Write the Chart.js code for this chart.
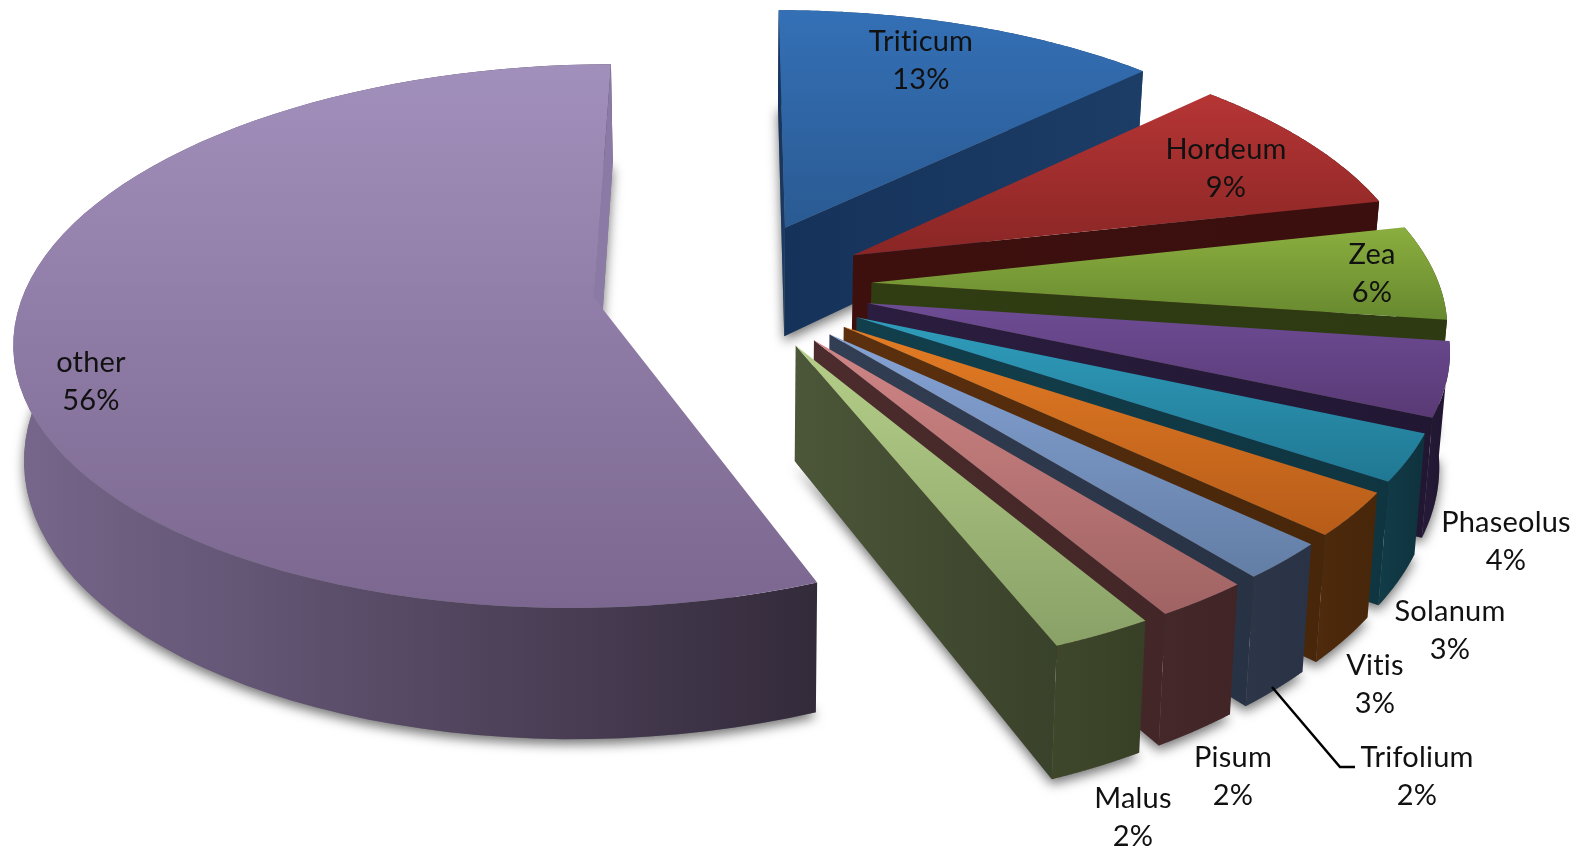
<!DOCTYPE html>
<html>
<head>
<meta charset="utf-8">
<style>
	html, body { margin: 0; padding: 0; background: #fff; overflow: hidden; }
	canvas { display: block; filter: blur(0.5px); }
</style>
</head>
<body>
<canvas id="piechart" width="1589" height="849"></canvas>
<script src="https://cdn.jsdelivr.net/npm/chart.js"></script>
<script>
	var categories = ['Triticum', 'Hordeum', 'Zea', 'Phaseolus', 'Solanum', 'Vitis', 'Trifolium', 'Pisum', 'Malus', 'other'];
	// labels are rounded, the slice widths show a bit more than that
	var values = [12.8, 8.7, 5.7, 4.4, 2.8, 2.6, 2.2, 2.3, 2.45, 56.05];

	// top face gradient, light at the back, dark at the front
	var topLight = ['#3470b6', '#b63535', '#8bae3f', '#6e4c95', '#2f9dbc', '#e47c24', '#85a3d5', '#d08585', '#b5cf89', '#a290bc'];
	var topDark = ['#2a5a92', '#892625', '#67892f', '#593a75', '#207893', '#b75c19', '#637ea5', '#a06363', '#89a167', '#7b678f'];
	var wallLeft = ['#1a3a60', '#3d100e', '#303d13', '#261a38', '#113c48', '#4f2a0c', '#2c3648', '#452829', '#3f472b', '#77678c'];
	var wallRight = ['#1a3a60', '#3a0f0d', '#2d3a12', '#1f1630', '#0f323d', '#47260a', '#293345', '#412526', '#373f26', '#332a3a'];
	var faceLeft = ['#15325a', '#3d100e', '#303d13', '#2b1d3f', '#123f4c', '#5c300e', '#323e53', '#4c2c2c', '#4c5638', '#8a7aa5'];
	var faceRight = ['#1c3d66', '#3a0f0d', '#2d3a12', '#211733', '#0f3540', '#47260a', '#283245', '#432627', '#39422a', '#8a7aa5'];

	// label centres, same order as categories
	var labelX = [921, 1226, 1372, 1506, 1450, 1375, 1417, 1233, 1133, 91];
	var labelY = [42, 150, 255, 523, 612, 666, 758, 758, 799, 363];
	var lineGap = 37.5;
	var leaderX = [1272, 1340, 1355];
	var leaderY = [687, 767, 767];

	// view used to lay the flat pie down
	var originX = 732, originY = 285.5, spread = 568;
	var tilt = 0.463, persp = 0.14, depth = 112, narrow = 0.985;
	var steps = 80;

	function project(u, v, low) {
		var s = 1 / (1 - persp * v);
		var x = u * spread * s;
		var y = originY + v * spread * tilt * s;
		if (low) {
			x = x * narrow;
			y = y + depth * s;
		}
		return [originX + x, y];
	}

	function pathOf(ctx, pts) {
		ctx.beginPath();
		pts.forEach(function (p, i) {
			if (i == 0) ctx.moveTo(p[0], p[1]);
			else ctx.lineTo(p[0], p[1]);
		});
		ctx.closePath();
	}

	function area(pts) {
		var a = 0;
		pts.forEach(function (p, i) {
			var q = pts[(i + 1) % pts.length];
			a += p[0] * q[1] - q[0] * p[1];
		});
		return a / 2;
	}

	function hGrad(ctx, pts, c1, c2) {
		var xs = pts.map(function (p) { return p[0]; });
		var g = ctx.createLinearGradient(Math.min.apply(null, xs), 0, Math.max.apply(null, xs), 0);
		g.addColorStop(0, c1);
		g.addColorStop(1, c2);
		return g;
	}

	function vGrad(ctx, pts, c1, c2) {
		var ys = pts.map(function (p) { return p[1]; });
		var g = ctx.createLinearGradient(0, Math.min.apply(null, ys), 0, Math.max.apply(null, ys));
		g.addColorStop(0, c1);
		g.addColorStop(1, c2);
		return g;
	}

	// ground coordinates of a slice, in pie radii, read from the arc element
	function sliceShape(arc) {
		var p = arc.getProps(['startAngle', 'endAngle', 'outerRadius'], true);
		var mid = (p.startAngle + p.endAngle) / 2;
		var off = arc.options.offset / p.outerRadius;
		var u0 = Math.cos(mid) * off, v0 = Math.sin(mid) * off;
		var rim = [];
		for (var i = 0; i <= steps; i++) {
			var a = p.startAngle + (p.endAngle - p.startAngle) * i / steps;
			rim.push([u0 + Math.cos(a), v0 + Math.sin(a)]);
		}
		return { u0: u0, v0: v0, rim: rim };
	}

	function drawSlice(ctx, shape, i) {
		var topRim = shape.rim.map(function (r) { return project(r[0], r[1], false); });
		var lowRim = shape.rim.map(function (r) { return project(r[0], r[1], true); });
		var apexTop = project(shape.u0, shape.v0, false);
		var apexLow = project(shape.u0, shape.v0, true);

		// outer wall, back part ends up hidden below the top face
		var wall = topRim.concat(lowRim.slice().reverse());
		pathOf(ctx, wall);
		ctx.fillStyle = hGrad(ctx, wall, wallLeft[i], wallRight[i]);
		ctx.fill();

		// the two cut faces, only when they look at the viewer
		var first = [apexTop, topRim[0], lowRim[0], apexLow];
		var last = [apexTop, apexLow, lowRim[steps], topRim[steps]];
		[first, last].forEach(function (face) {
			if (area(face) < 0) {
				pathOf(ctx, face);
				ctx.fillStyle = hGrad(ctx, face, faceLeft[i], faceRight[i]);
				ctx.fill();
			}
		});

		var top = [apexTop].concat(topRim);
		pathOf(ctx, top);
		ctx.fillStyle = vGrad(ctx, top, topLight[i], topDark[i]);
		ctx.fill();
	}

	var pie3d = {
		id: 'pie3d',
		beforeDatasetsDraw: function (chart) {
			var ctx = chart.ctx;
			var arcs = chart.getDatasetMeta(0).data;
			var shapes = arcs.map(sliceShape);
			// the big slice sits behind everything, the rest go back to front
			var order = [values.length - 1];
			for (var i = 0; i < values.length - 1; i++) order.push(i);

			ctx.save();
			ctx.shadowColor = 'rgba(0,0,0,0.55)';
			ctx.shadowBlur = 12;
			ctx.shadowOffsetY = 5;
			ctx.fillStyle = '#777';
			order.forEach(function (i) {
				var low = [project(shapes[i].u0, shapes[i].v0, true)].concat(shapes[i].rim.map(function (r) {
					return project(r[0], r[1], true);
				}));
				pathOf(ctx, low);
				ctx.fill();
			});
			ctx.restore();

			order.forEach(function (i) {
				drawSlice(ctx, shapes[i], i);
			});
			return false;
		},
		afterDraw: function (chart) {
			var ctx = chart.ctx;
			ctx.save();
			ctx.strokeStyle = '#000';
			ctx.lineWidth = 2.5;
			ctx.beginPath();
			leaderX.forEach(function (x, i) {
				if (i == 0) ctx.moveTo(x, leaderY[i]);
				else ctx.lineTo(x, leaderY[i]);
			});
			ctx.stroke();

			ctx.font = '29px Lato';
			ctx.letterSpacing = '0.2px'; // also stops the "ti" ligature
			ctx.fillStyle = '#111';
			ctx.textAlign = 'center';
			ctx.textBaseline = 'middle';
			categories.forEach(function (name, i) {
				ctx.fillText(name, labelX[i], labelY[i]);
				ctx.fillText(Math.round(values[i]) + '%', labelX[i], labelY[i] + lineGap);
			});
			ctx.restore();
		}
	};

	new Chart(document.getElementById('piechart'), {
		type: 'pie',
		data: {
			labels: categories,
			datasets: [{
				data: values,
				backgroundColor: topLight,
				borderWidth: 0,
				offset: 93,
				hoverOffset: 0
			}]
		},
		options: {
			responsive: false,
			animation: false,
			events: [],
			rotation: 0,
			plugins: {
				legend: { display: false },
				tooltip: { enabled: false }
			}
		},
		plugins: [pie3d]
	});
</script>
</body>
</html>
